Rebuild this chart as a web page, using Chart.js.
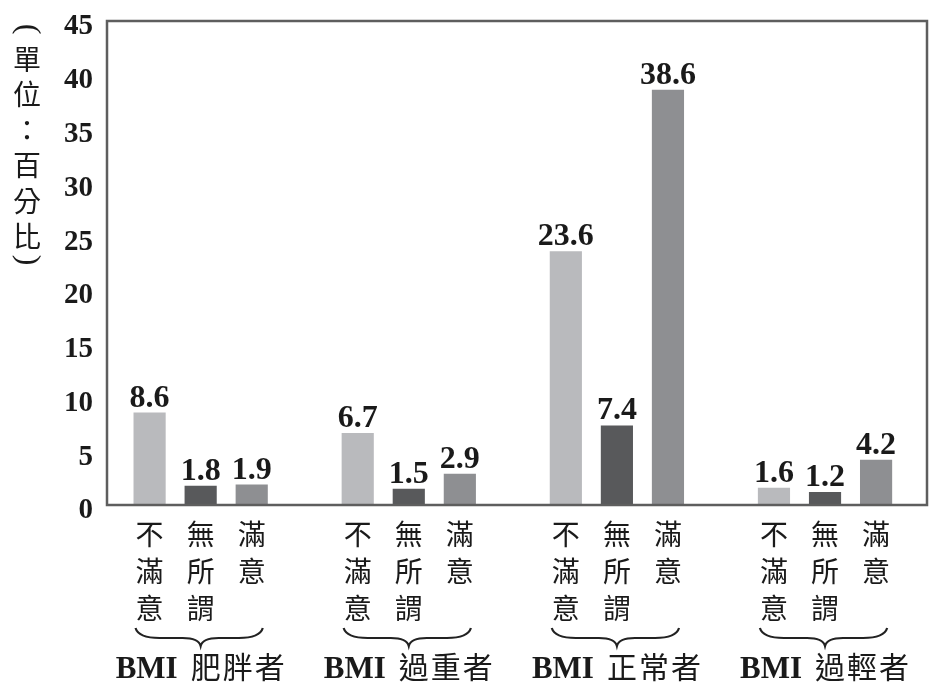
<!DOCTYPE html>
<html>
<head>
<meta charset="utf-8">
<script src="https://cdn.jsdelivr.net/npm/chart.js@4/dist/chart.umd.min.js"></script>
<style>
  html, body { margin: 0; padding: 0; background: #fff; }
  #wrap { width: 929px; height: 687px; position: relative; }
</style>
</head>
<body>
<div id="wrap"><canvas id="chart"></canvas></div>
<script>
// groups along the x axis
const groups = ['肥胖者', '過重者', '正常者', '過輕者'];
const groupPrefix = 'BMI';
// the three answers, one dataset each
const answers = ['不滿意', '無所謂', '滿意'];
const notSatisfied = [8.6, 6.7, 23.6, 1.6];
const noMatter = [1.8, 1.5, 7.4, 1.2];
const satisfied = [1.9, 2.9, 38.6, 4.2];
const yTicks = [0, 5, 10, 15, 20, 25, 30, 35, 40, 45];
const yTitle = ['單', '位', '：', '百', '分', '比'];

const colors = ['#b9babd', '#58595b', '#8e8f92'];
const serif = '"Liberation Serif", "Times New Roman", serif';
const cjk = '"Noto Sans CJK TC", "Noto Sans CJK SC", sans-serif';
const ink = '#1a1a1a';

function points(values) {
    return values.map(function (v, i) { return { x: i, y: v }; });
}

const series = [notSatisfied, noMatter, satisfied];

// box, value labels, vertical answer labels, braces, group names, y title
const decor = {
    id: 'decor',
    afterDatasetsDraw(chart) {
        const ctx = chart.ctx;
        const area = chart.chartArea;
        ctx.save();

        // frame around plot
        ctx.strokeStyle = '#5e5e5e';
        ctx.lineWidth = 2.5;
        ctx.strokeRect(area.left, area.top, area.right - area.left, area.bottom - area.top);

        // value labels over bars
        ctx.fillStyle = ink;
        ctx.font = 'bold 32px ' + serif;
        ctx.textAlign = 'center';
        ctx.textBaseline = 'alphabetic';
        for (let d = 0; d < series.length; d++) {
            const meta = chart.getDatasetMeta(d);
            meta.data.forEach(function (bar, i) {
                ctx.fillText(series[d][i].toFixed(1), bar.x, bar.y - 6);
            });
        }

        // vertical answer labels under each bar
        ctx.font = '28px ' + cjk;
        ctx.textBaseline = 'middle';
        for (let d = 0; d < answers.length; d++) {
            const meta = chart.getDatasetMeta(d);
            meta.data.forEach(function (bar) {
                const chars = answers[d].split('');
                for (let c = 0; c < chars.length; c++) {
                    ctx.fillText(chars[c], bar.x, 534 + c * 37);
                }
            });
        }

        // braces and group names
        const first = chart.getDatasetMeta(0).data;
        const mid = chart.getDatasetMeta(1).data;
        const last = chart.getDatasetMeta(2).data;
        for (let i = 0; i < groups.length; i++) {
            const x0 = first[i].x - first[i].width / 2 + 2;
            const x1 = last[i].x + last[i].width / 2 - 5;
            const xc = mid[i].x;
            ctx.strokeStyle = '#222';
            ctx.lineWidth = 2.2;
            ctx.beginPath();
            ctx.moveTo(x0, 628);
            ctx.quadraticCurveTo(x0 + 3, 638, x0 + 24, 638);
            ctx.lineTo(xc - 18, 638);
            ctx.quadraticCurveTo(xc - 2, 638, xc, 646);
            ctx.quadraticCurveTo(xc + 2, 638, xc + 18, 638);
            ctx.lineTo(x1 - 24, 638);
            ctx.quadraticCurveTo(x1 - 3, 638, x1, 628);
            ctx.stroke();

            ctx.font = 'bold 31px ' + serif;
            const w1 = ctx.measureText(groupPrefix).width;
            const chars = groups[i].split('');
            const cw = 32;
            const total = w1 + 12 + chars.length * cw;
            let x = xc - total / 2;
            ctx.textAlign = 'left';
            ctx.textBaseline = 'alphabetic';
            ctx.fillText(groupPrefix, x, 678);
            x += w1 + 12;
            ctx.font = '30px ' + cjk;
            ctx.textAlign = 'center';
            ctx.textBaseline = 'middle';
            for (let c = 0; c < chars.length; c++) {
                ctx.fillText(chars[c], x + cw / 2, 667);
                x += cw;
            }
        }

        // stacked y title with turned brackets
        ctx.textAlign = 'center';
        ctx.textBaseline = 'middle';
        ctx.font = '28px ' + cjk;
        for (let c = 0; c < yTitle.length; c++) {
            ctx.fillText(yTitle[c], 27, 59 + c * 35.5);
        }
        ctx.font = '32px ' + serif;
        ctx.save();
        ctx.translate(27, 29);
        ctx.rotate(Math.PI / 2);
        ctx.fillText('(', 0, 0);
        ctx.restore();
        ctx.save();
        ctx.translate(27, 260);
        ctx.rotate(Math.PI / 2);
        ctx.fillText(')', 0, 0);
        ctx.restore();

        ctx.restore();
    }
};

const ctx1 = document.getElementById('chart').getContext('2d');
const chart1 = new Chart(ctx1, {
    type: 'bar',
    data: {
        datasets: answers.map(function (name, d) {
            return {
                label: name,
                data: points(series[d]),
                backgroundColor: colors[d],
                borderWidth: 0,
                categoryPercentage: 0.736,
                barPercentage: 0.63
            };
        })
    },
    options: {
        responsive: true,
        maintainAspectRatio: false,
        animation: false,
        layout: { padding: { top: 21, right: 2, bottom: 182, left: 0 } },
        plugins: {
            legend: { display: false },
            tooltip: { enabled: false }
        },
        scales: {
            x: {
                type: 'linear',
                offset: false,
                min: -0.45,
                max: 3.49,
                grid: { display: false },
                border: { display: false },
                ticks: { display: false },
                afterBuildTicks: function (axis) {
                    axis.ticks = groups.map(function (g, i) { return { value: i }; });
                },
                afterFit: function (axis) { axis.height = 0; }
            },
            y: {
                min: 0,
                max: 45,
                grid: { display: false, drawTicks: false },
                border: { display: false },
                afterBuildTicks: function (axis) {
                    axis.ticks = yTicks.map(function (v) { return { value: v }; });
                },
                afterFit: function (axis) {
                    axis.width = 107;
                    axis.paddingTop = 0;
                    axis.paddingBottom = 0;
                },
                ticks: {
                    padding: 14,
                    labelOffset: 6,
                    color: ink,
                    font: { family: serif, size: 29, weight: 'bold' }
                }
            }
        }
    },
    plugins: [decor]
});
</script>
</body>
</html>
